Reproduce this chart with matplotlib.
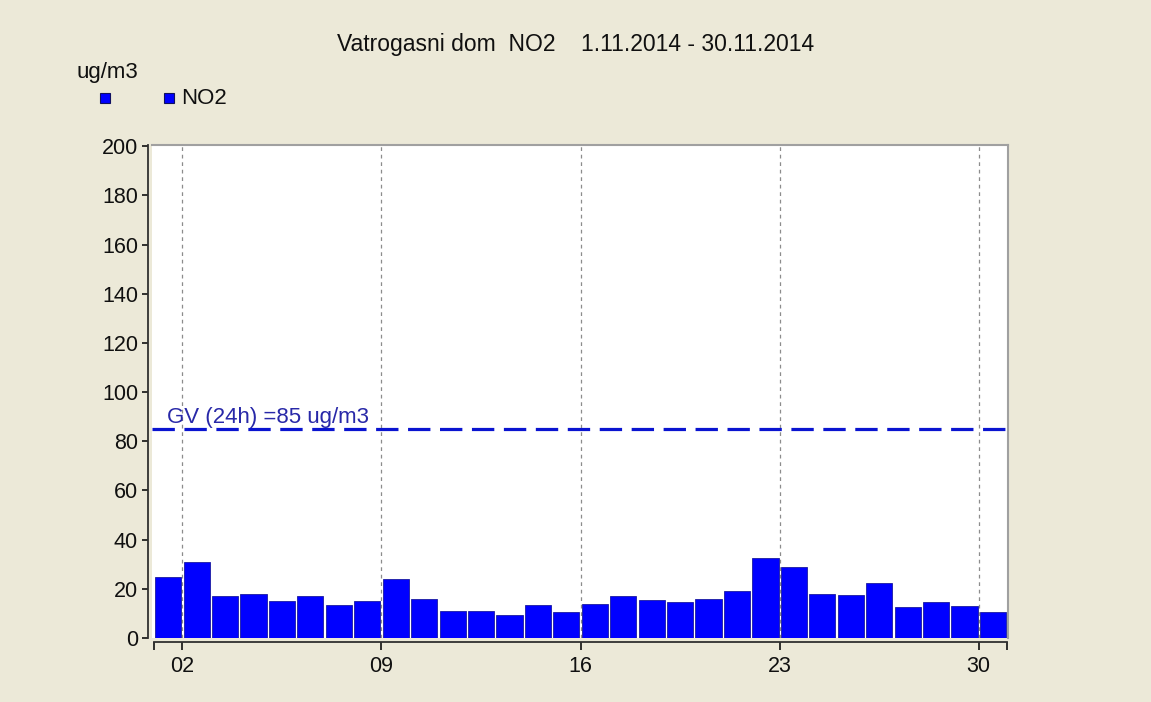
import matplotlib
matplotlib.use("Agg")
import matplotlib.pyplot as plt
from matplotlib.lines import Line2D
import numpy as np

plt.rcParams['font.family'] = ['Liberation Sans', 'DejaVu Sans']

days = list(range(1, 31))
no2 = [25, 31, 17, 18, 15, 17, 13.5, 15, 24, 16, 11, 11, 9.5, 13.5, 10.5,
       14, 17, 15.5, 14.5, 16, 19, 32.5, 29, 18, 17.5, 22.5, 12.5, 14.5, 13, 10.5]
tick_pos = [1, 2, 9, 16, 23, 30, 31]
tick_labels = ['', '02', '09', '16', '23', '30', '']
grid_days = [2, 9, 16, 23, 30]
yticks = list(range(0, 201, 20))
gv_value = 85
title = "Vatrogasni dom  NO2    1.11.2014 - 30.11.2014"
gv_label = "GV (24h) =85 ug/m3"
unit = "ug/m3"
series_name = "NO2"

W, H = 1151, 702
bg = '#ECE9D8'
fig = plt.figure(figsize=(W / 100, H / 100), dpi=100, facecolor=bg)
ax = fig.add_axes([152 / W, 64 / H, (1008 - 152) / W, (557 - 64) / H])
ax.set_facecolor('white')

x = np.array(days) + 0.5
ax.bar(x, no2, width=0.92, color='#0000ff', edgecolor='#1a1aa0', linewidth=0.6, zorder=3)

for d in grid_days:
    ax.axvline(d, color='#8c8c8c', lw=0.9, dashes=(3, 3), zorder=1)

ax.axhline(gv_value, color='#0a14d0', lw=2.3, dashes=(7.0, 3.0), zorder=4)
ax.text(1.45, gv_value + 2.3, gv_label, color='#2828a8', fontsize=16, zorder=5)

ax.set_xlim(0.93, 31.03)
ax.set_ylim(0, 200.5)
ax.set_xticks(tick_pos)
ax.set_xticklabels(tick_labels)
ax.set_yticks(yticks)
ax.tick_params(axis='both', labelsize=15.5, colors='#101010', direction='out', width=1.2)
ax.tick_params(axis='y', length=4, pad=3)
ax.tick_params(axis='x', length=6, pad=4)

ax.spines['left'].set_position(('outward', 3))
ax.spines['bottom'].set_position(('outward', 3))
ax.spines['left'].set_color('#303030')
ax.spines['bottom'].set_color('#303030')
ax.spines['left'].set_linewidth(1.3)
ax.spines['bottom'].set_linewidth(1.3)
ax.spines['bottom'].set_bounds(1, 31)
for s in ['top', 'right']:
    ax.spines[s].set_color('#a0a0a0')
    ax.spines[s].set_linewidth(1.5)

fig.text(576 / W, 1 - 45 / H, title, ha='center', va='center', fontsize=16.5, color='#101010')
fig.text(76 / W, 1 - 78 / H, unit, ha='left', va='baseline', fontsize=16, color='#101010')
for px in (105, 169):
    fig.add_artist(Line2D([px / W], [1 - 98 / H], transform=fig.transFigure, marker='s',
                          markersize=7.5, markerfacecolor='#0000ff', markeredgecolor='#101060',
                          markeredgewidth=0.8, linestyle='none'))
fig.text(181 / W, 1 - 98 / H, series_name, ha='left', va='center', fontsize=16, color='#101010')

fig.savefig('out.png', dpi=100, facecolor=bg)
